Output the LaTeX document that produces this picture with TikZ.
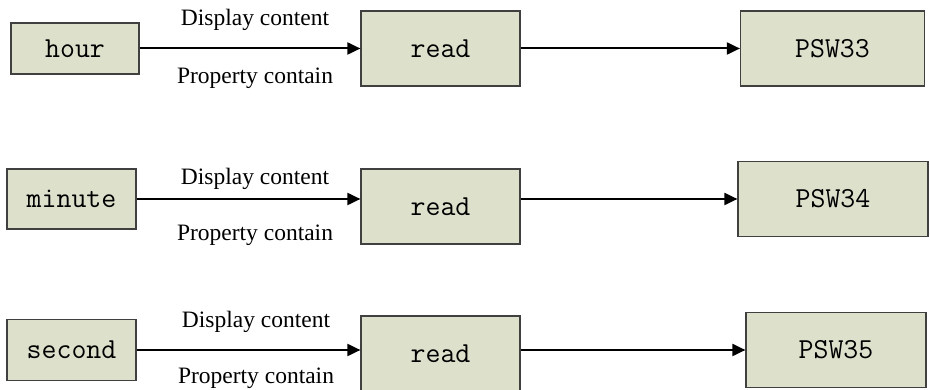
\documentclass[tikz,border=0pt]{standalone}
\usepackage{fontspec}
\setmainfont{Liberation Serif}
\usepackage{tikz}
\usetikzlibrary{arrows.meta, positioning}
\definecolor{boxfill}{RGB}{221,224,203}

\begin{document}
\begin{tikzpicture}[
  x=1pt, y=-1pt,
  unit/.style={rectangle, draw=black!75, line width=1.2pt, fill=boxfill, minimum height=51pt,
               minimum width=128pt, inner sep=0pt, font=\ttfamily\fontsize{29}{31}\selectfont},
  reader/.style={unit, minimum width=159pt, minimum height=75pt},
  target/.style={unit, minimum width=184pt, minimum height=75pt},
  lbl/.style={inner sep=0pt, font=\fontsize{23.5}{25}\selectfont},
  arr/.style={-{Triangle[length=13pt, width=12pt]}, line width=2pt},
]
  \useasboundingbox (0,0) rectangle (930,390);
  % hour
  \node[unit] (hour) at (75,48.5) {hour};
  \node[reader] (read1) at (440.5,48.5) {read};
  \node[target] (psw33) at (832.5,48.5) {PSW33};
  \node[lbl] (disp1) at (255,20) {Display content};
  \node[lbl] (prop1) at (255,78) {Property contain};
  % minute
  \node[unit, minimum width=129pt, minimum height=60pt] (minute) at (71.5,199) {minute};
  \node[reader] (read2) at (440.5,206.5) {read};
  \node[target, minimum width=190pt] (psw34) at (833,199) {PSW34};
  \node[lbl] (disp2) at (255,179) {Display content};
  \node[lbl] (prop2) at (255,235) {Property contain};
  % second
  \node[unit, minimum width=129pt, minimum height=61pt] (second) at (71.5,350) {second};
  \node[reader] (read3) at (440.5,353.5) {read};
  \node[target, minimum width=180pt] (psw35) at (836,350) {PSW35};
  \node[lbl] (disp3) at (256,322) {Display content};
  \node[lbl] (prop3) at (256,378) {Property contain};
  \draw[arr] (hour) -- (read1);
  \draw[arr] (read1) -- (psw33);
  \draw[arr] (minute.east) -- (minute.east -| read2.west);
  \draw[arr] (minute.east -| read2.east) -- (psw34.west);
  \draw[arr] (second.east) -- (second.east -| read3.west);
  \draw[arr] (second.east -| read3.east) -- (psw35.west);
\end{tikzpicture}
\end{document}
